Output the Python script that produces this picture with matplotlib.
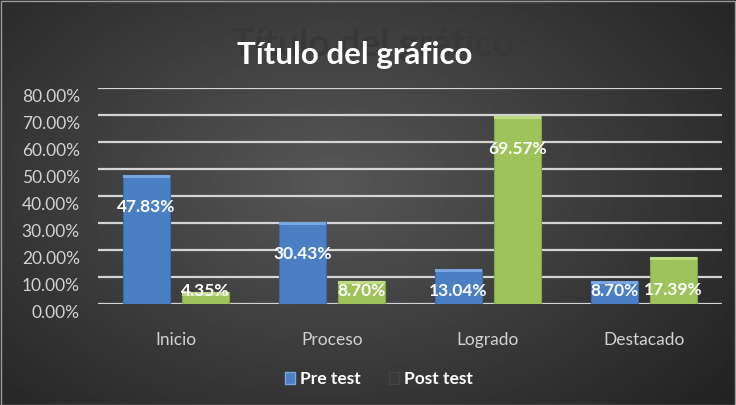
import numpy as np
import matplotlib
matplotlib.use("Agg")
import matplotlib.pyplot as plt
import matplotlib.transforms as mtransforms
from matplotlib.patches import Patch, Rectangle

categories = ["Inicio", "Proceso", "Logrado", "Destacado"]
pre_test = [47.83, 30.43, 13.04, 8.70]
post_test = [4.35, 8.70, 69.57, 17.39]
yticks = [0, 10, 20, 30, 40, 50, 60, 70, 80]

plt.rcParams['font.family'] = ['Lato', 'DejaVu Sans']

fig = plt.figure(figsize=(7.36, 4.05), dpi=100)

# dark radial background
bg = fig.add_axes([0, 0, 1, 1], zorder=-10)
yy, xx = np.mgrid[0:1:300j, 0:1:500j]
r = np.sqrt(((xx - 0.45) / 0.75) ** 2 + ((yy - 0.45) / 0.9) ** 2)
shade = np.clip(0.34 - 0.22 * r, 0.12, 0.34)
bg.imshow(shade, cmap="gray", vmin=0, vmax=1, aspect="auto", extent=[0, 1, 0, 1])
bg.set_axis_off()
fig.patches.append(Rectangle((0.001, 0.001), 0.998, 0.996, transform=fig.transFigure,
                             fill=False, edgecolor="#9a9a9a", linewidth=1))

ax = fig.add_axes([0.133, 0.249, 0.848, 0.534])
ax.set_facecolor("none")
x = np.arange(len(categories))
w = 0.30
off = 0.19
b1 = ax.bar(x - off, pre_test, w, color="#4a7fc4", edgecolor="#3a6aa8", linewidth=0.8, zorder=3)
b2 = ax.bar(x + off, post_test, w, color="#9dc35a", edgecolor="#84a846", linewidth=0.8, zorder=3)

# lighter bevel on top of each bar
for bars, light in ((b1, "#7aa6e0"), (b2, "#bddb82")):
    for rect in bars:
        h = rect.get_height()
        ax.add_patch(Rectangle((rect.get_x(), h - min(1.2, h * 0.3)), rect.get_width(),
                               min(1.2, h * 0.3), color=light, zorder=4, linewidth=0))

for xs, vals in ((x - off, pre_test), (x + off, post_test)):
    for xi, v in zip(xs, vals):
        ax.text(xi, max(v - 12, 5.0), f"{v:.2f}%", ha="center", va="center",
                color="white", fontsize=12.5, fontweight="bold", zorder=6)

ax.set_xlim(-0.5, len(categories) - 0.5)
ax.set_ylim(0, 80)
ax.set_yticks(yticks)
ax.set_yticklabels([f"{t:.2f}%" for t in yticks])
ax.set_xticks(x)
ax.set_xticklabels(categories)
ax.tick_params(axis="y", length=0, pad=13, labelsize=12.5, labelcolor="#d2d2d2")
ax.tick_params(axis="x", length=0, pad=20, labelsize=12.5, labelcolor="#d2d2d2")
shift = mtransforms.ScaledTranslation(0, -0.075, fig.dpi_scale_trans)
for lab in ax.get_yticklabels():
    lab.set_transform(lab.get_transform() + shift)
ax.grid(axis="y", color="#d4d4d4", linewidth=1.6, zorder=1)
for s in ax.spines.values():
    s.set_visible(False)

# title with its ghost reflection
fig.text(0.507, 0.888, "Título del gráfico", ha="center", va="center",
         fontsize=27, fontweight="bold", color="#383838", zorder=1)
fig.text(0.482, 0.865, "Título del gráfico", ha="center", va="center",
         fontsize=22.5, fontweight="bold", color="white", zorder=2)

handles = [Patch(facecolor="#4a7fc4", edgecolor="#7aa6e0"),
           Patch(facecolor="#3a3a3a", edgecolor="#444444")]
fig.legend(handles, ["Pre test", "Post test"], loc="center", bbox_to_anchor=(0.515, 0.063),
           ncol=2, frameon=False, handlelength=0.6, handleheight=0.7, handletextpad=0.3,
           columnspacing=1.6, prop={"weight": "bold", "size": 12.5}, labelcolor="white")

fig.savefig("out.png", dpi=100)
